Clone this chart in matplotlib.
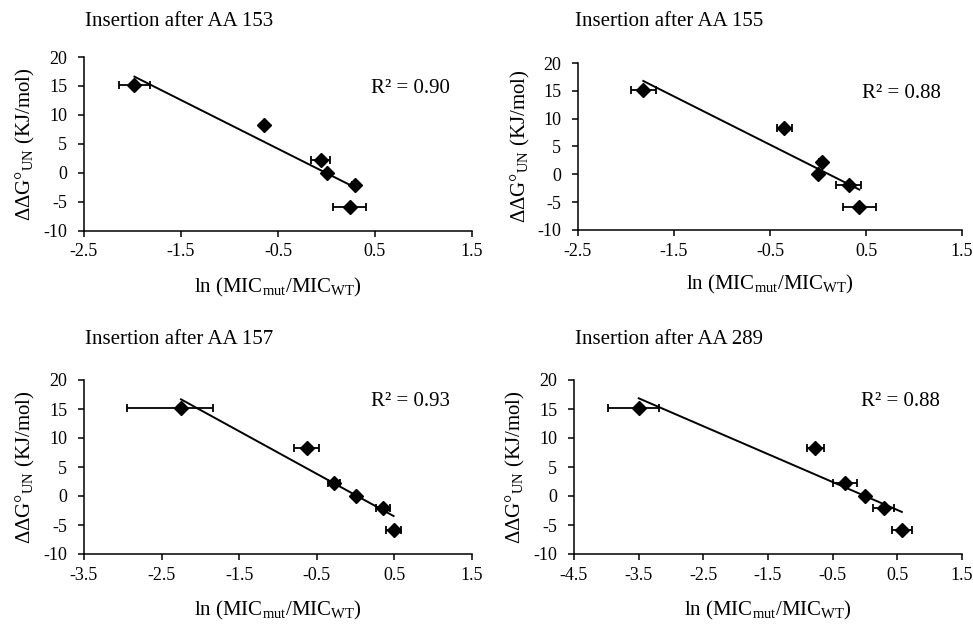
import numpy as np
import matplotlib
matplotlib.use("Agg")
import matplotlib.pyplot as plt

plt.rcParams['font.family'] = ['Liberation Serif', 'DejaVu Serif']
plt.rcParams['mathtext.fontset'] = 'custom'
plt.rcParams['mathtext.rm'] = 'Liberation Serif'
plt.rcParams['mathtext.it'] = 'Liberation Serif:italic'
plt.rcParams['axes.unicode_minus'] = False

# ddG (kJ/mol), same mutants in every panel
ddg = [15.2, 8.3, 2.3, 0.0, -2.0, -5.9]

titles = ["Insertion after AA 153", "Insertion after AA 155",
          "Insertion after AA 157", "Insertion after AA 289"]
r2 = ["0.90", "0.88", "0.93", "0.88"]

x153 = [-1.98, -0.64, -0.06, 0.0, 0.29, 0.24]
err153_lo = [0.16, 0.03, 0.10, 0.0, 0.03, 0.17]
err153_hi = [0.16, 0.03, 0.10, 0.0, 0.03, 0.17]

x155 = [-1.82, -0.35, 0.04, 0.0, 0.32, 0.43]
err155_lo = [0.13, 0.08, 0.03, 0.0, 0.13, 0.17]
err155_hi = [0.13, 0.08, 0.03, 0.0, 0.13, 0.17]

x157 = [-2.25, -0.63, -0.28, 0.0, 0.35, 0.49]
err157_lo = [0.70, 0.16, 0.075, 0.0, 0.09, 0.10]
err157_hi = [0.41, 0.16, 0.075, 0.0, 0.09, 0.10]

x289 = [-3.5, -0.77, -0.31, 0.0, 0.29, 0.57]
err289_lo = [0.48, 0.13, 0.18, 0.0, 0.16, 0.16]
err289_hi = [0.32, 0.13, 0.18, 0.0, 0.16, 0.16]

xs = [x153, x155, x157, x289]
errs = [(err153_lo, err153_hi), (err155_lo, err155_hi),
        (err157_lo, err157_hi), (err289_lo, err289_hi)]
xstart = [-2.5, -2.5, -3.5, -4.5]

W, H = 973, 625
fig = plt.figure(figsize=(9.73, 6.25), dpi=100)

# axes boxes in pixels: left, top, right, bottom
boxes = [(84, 57, 472, 231), (578, 63, 962, 230),
         (84, 380, 472, 554), (574, 380, 962, 554)]
title_pos = [(85, 22), (575, 22), (85, 339), (575, 339)]

for i in range(4):
    l, t, r, b = boxes[i]
    ax = fig.add_axes([l / W, 1 - b / H, (r - l) / W, (b - t) / H])
    x = np.array(xs[i])
    y = np.array(ddg)

    k, c = np.polyfit(x, y, 1)
    xl = np.array([x.min(), x.max()])
    ax.plot(xl, k * xl + c, color='black', lw=1.4, zorder=2)

    ax.errorbar(x, y, xerr=[errs[i][0], errs[i][1]], fmt='D', ms=7,
                color='black', ecolor='black', elinewidth=1.3,
                capsize=3, capthick=1.3, zorder=3)

    ax.set_xlim(xstart[i], 1.5)
    ax.set_ylim(-10, 20)
    ax.set_xticks(np.arange(xstart[i], 1.51, 1.0))
    ax.set_yticks(np.arange(-10, 21, 5))
    ax.set_xticklabels(["%.1f" % v for v in np.arange(xstart[i], 1.51, 1.0)])
    for s in ['top', 'right']:
        ax.spines[s].set_visible(False)
    for s in ['left', 'bottom']:
        ax.spines[s].set_linewidth(1.1)
    ax.tick_params(direction='out', length=4, width=1.1, labelsize=13)
    ax.tick_params(axis='x', pad=5)
    ax.tick_params(axis='y', pad=8)

    ax.set_ylabel(r"$\Delta\Delta$G°$_{\mathrm{UN}}$ (KJ/mol)", fontsize=15)
    ax.yaxis.set_label_coords(-0.12, 0.5)
    ax.set_xlabel(r"ln (MIC$_{\mathrm{mut}}$/MIC$_{\mathrm{WT}}$)", fontsize=15)
    ax.xaxis.set_label_coords(0.5, -0.26)

    ax.text(0.74, 0.82 if i < 2 else 0.875, "R² = " + r2[i],
            transform=ax.transAxes, fontsize=15, va='center', ha='left')

    fig.text(title_pos[i][0] / W, 1 - title_pos[i][1] / H, titles[i],
             fontsize=15, va='center', ha='left')

plt.savefig("out.png", dpi=100)
